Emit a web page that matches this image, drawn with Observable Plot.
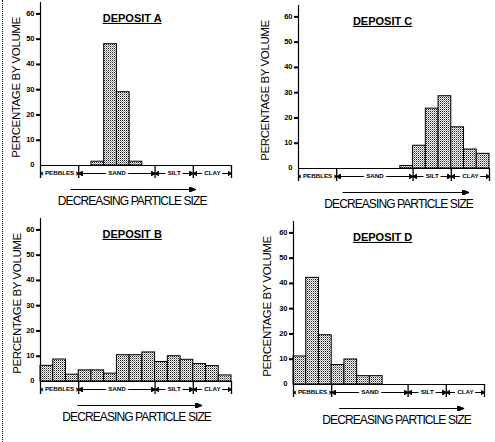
<!DOCTYPE html>
<html><head><meta charset="utf-8">
<script src="https://cdn.jsdelivr.net/npm/d3@7"></script>
<script src="https://cdn.jsdelivr.net/npm/@observablehq/plot@0.6"></script>
<style>
html,body{margin:0;padding:0;background:#fff;overflow:hidden;}
#root{position:relative;width:495px;height:442px;overflow:hidden;font-family:"Liberation Sans",Arial,sans-serif;}
#root svg.panel{position:absolute;overflow:visible;}
#dots{position:absolute;left:2px;top:0;width:0;height:442px;border-left:1px dotted #000;}
</style></head><body>
<svg width="0" height="0" style="position:absolute">
<defs><pattern id="stipple" width="2" height="2" patternUnits="userSpaceOnUse">
<rect width="2" height="2" fill="#fff"/><rect x="0" y="0" width="1" height="1" fill="#222"/><rect x="1" y="1" width="1" height="1" fill="#999"/></pattern></defs></svg>
<div id="root"><div id="dots"></div></div>
<script>
// ---- data ----
const bins = d3.range(15);
const classes = ["PEBBLES", "SAND", "SILT", "CLAY"];
const classBounds = [0, 3, 9, 12, 15];
const yTickLabels = [0, 10, 20, 30, 40, 50, 60];
const depositNames = ["A", "B", "C", "D"];
const depositA = [0, 0, 0, 0, 1.5, 48, 29, 1.5, 0, 0, 0, 0, 0, 0, 0];
const depositB = [6.2, 8.7, 2.7, 4.4, 4.4, 3.1, 10.4, 10.4, 11.5, 7.7, 10.0, 8.6, 6.9, 6.1, 2.4];
const depositC = [0, 0, 0, 0, 0, 0, 0, 0, 1, 9, 23.7, 28.6, 16.3, 7.5, 5.8];
const depositD = [11.1, 42.2, 19.5, 7.7, 9.9, 3.3, 3.3, 0, 0, 0, 0, 0, 0, 0, 0];
const depositValues = [depositA, depositB, depositC, depositD];
const xLabelText = "DECREASING PARTICLE SIZE";
const yLabelText = "PERCENTAGE BY VOLUME";

// ---- layout (annotation placement) ----
const panelLeft = [0, 0, 258, 253];
const panelTop = [0, 216, 3, 219];
const arrowSpan = [[2.36, 12.2], [2.9, 12.7], [3.46, 13.4], [3.58, 13.4]];
const xLabelAt = [7.2, 7.55, 7.86, 8.1];
const titleAt = [7.2, 7.2, 6.6, 7.0];
const yLabelDx = [-24.5, -23.5, -33.5, -26];

function tri(L, h) {
  return (color) => {
    const ns = "http://www.w3.org/2000/svg";
    const m = document.createElementNS(ns, "marker");
    m.setAttribute("viewBox", `0 ${-h} ${L} ${2 * h}`);
    m.setAttribute("markerWidth", L);
    m.setAttribute("markerHeight", 2 * h);
    m.setAttribute("markerUnits", "userSpaceOnUse");
    m.setAttribute("refX", L);
    m.setAttribute("refY", 0);
    m.setAttribute("orient", "auto-start-reverse");
    const p = document.createElementNS(ns, "path");
    p.setAttribute("d", `M0,${-h}L${L},0L0,${h}Z`);
    p.setAttribute("fill", color);
    m.appendChild(p);
    return m;
  };
}

const root = document.getElementById("root");
depositNames.forEach((name, k) => {
  const values = depositValues[k];
  const bars = bins.map(i => ({i, v: values[i]})).filter(d => d.v > 0);
  const segs = classes.map((c, j) => ({c, x1: classBounds[j], x2: classBounds[j + 1]}));
  const width = Math.min(247, 495 - panelLeft[k]);
  const title = `DEPOSIT ${name}`;
  const svg = Plot.plot({
    width, height: 221,
    marginLeft: 40, marginRight: width - 231, marginTop: 2, marginBottom: 56,
    x: {domain: [0, 15]},
    y: {domain: [0, 64.5]},
    style: {fontFamily: '"Liberation Sans", Arial, sans-serif', background: "transparent", color: "#000"},
    marks: [
      Plot.rect(bars, {x1: "i", x2: d => d.i + 1, y1: 0, y2: "v", fill: "url(#stipple)", stroke: "#000", strokeWidth: 1}),
      Plot.ruleX([0], {stroke: "#000", strokeWidth: 1.2}),
      Plot.ruleY([0], {stroke: "#000", strokeWidth: 1.2}),
      Plot.axisY({ticks: yTickLabels.filter(d => d > 0), tickSize: 4, tickFormat: () => "", label: null, strokeWidth: 2, fill: "none"}),
      Plot.axisY({ticks: yTickLabels, tickSize: 0, tickPadding: 6, label: null, fontSize: 7.5, fontWeight: "bold", fill: "#000", dy: -0.5}),
      Plot.axisX({ticks: classBounds, tickSize: 13, tickFormat: () => "", label: null, strokeWidth: 1.3, fill: "none"}),
      Plot.link(segs, {x1: "x1", x2: "x2", y1: 0, y2: 0, dy: 8, stroke: "#000", markerStart: tri(4, 2.5), markerEnd: tri(4, 2.5)}),
      Plot.text(segs, {x: d => (d.x1 + d.x2) / 2, y: 0, dy: 8, text: "c", fontSize: 6.2, fontWeight: "bold", stroke: "white", strokeWidth: 5, fill: "#000"}),
      Plot.link([arrowSpan[k]], {x1: d => d[0], x2: d => d[1], y1: 0, y2: 0, dy: 24, stroke: "#000", strokeWidth: 1, markerEnd: tri(7, 2.8)}),
      Plot.text([xLabelText], {x: xLabelAt[k], y: 0, dy: 35.5, text: d => d, fontSize: 12, fill: "#000"}),
      Plot.text([yLabelText], {frameAnchor: "left", dx: yLabelDx[k], dy: 3.5, rotate: -90, textAnchor: "middle", text: d => d, fontSize: 11.5, fill: "#000"}),
      Plot.text([title], {x: titleAt[k], y: 60, dy: 4.5, text: d => d, fontSize: 11, fontWeight: "bold", fill: "#000"})
    ]
  });
  svg.classList.add("panel");
  svg.style.left = panelLeft[k] + "px";
  svg.style.top = panelTop[k] + "px";
  const s = d3.select(svg);
  const byText = t => s.selectAll("text").filter(function () { return this.textContent === t; });
  byText(xLabelText).style("letter-spacing", "-0.9px").style("font-stretch", "condensed");
  byText(yLabelText).style("letter-spacing", "-0.4px");
  byText(title).style("text-decoration", "underline");
  root.appendChild(svg);
});
</script>
</body></html>
